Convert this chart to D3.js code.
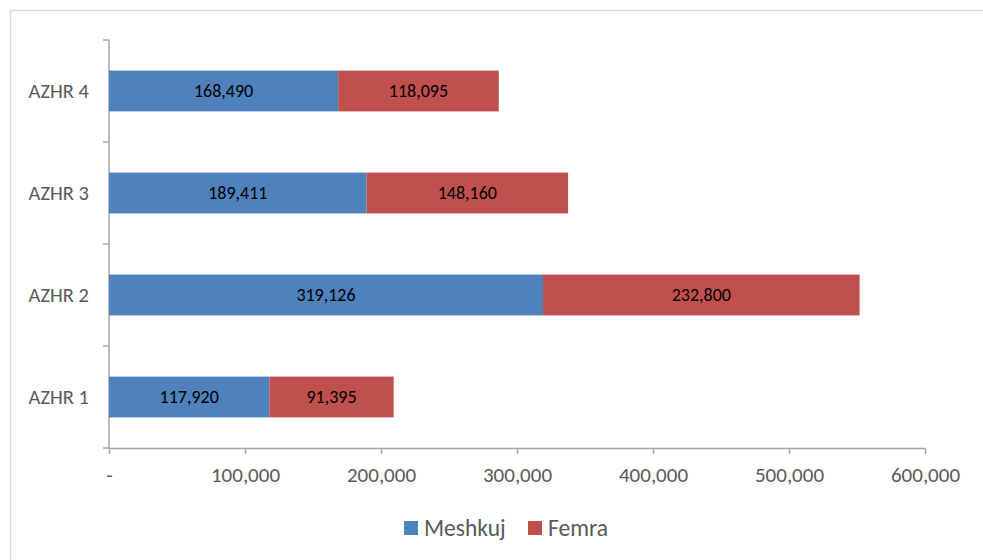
<!DOCTYPE html>
<html>
<head>
<meta charset="utf-8">
<script src="https://cdn.jsdelivr.net/npm/d3@7"></script>
<style>
  body { margin: 0; background: #fff; }
  text { font-family: Calibri, Carlito, "Open Sans", sans-serif; }
</style>
</head>
<body>
<svg id="chart" width="983" height="560"></svg>
<script>
// data
var categories = ["AZHR 1", "AZHR 2", "AZHR 3", "AZHR 4"];
var meshkuj = [117920, 319126, 189411, 168490];
var femra = [91395, 232800, 148160, 118095];
var seriesNames = ["Meshkuj", "Femra"];
var seriesColors = ["#4F81BD", "#C0504D"];
var xTicks = [0, 100000, 200000, 300000, 400000, 500000, 600000];

var svg = d3.select("#chart");

// outer frame
svg.append("rect")
    .attr("x", 10.5).attr("y", 10.5)
    .attr("width", 1000).attr("height", 600)
    .attr("fill", "none")
    .attr("stroke", "#D9D9D9")
    .attr("stroke-width", 1.5);

var pLeft = 109, pRight = 925, pTop = 40, pBottom = 448;

var x = d3.scaleLinear().domain([0, 600000]).range([pLeft, pRight]);
var y = d3.scaleBand()
    .domain(categories.slice().reverse())
    .range([pTop, pBottom])
    .paddingInner(0.6)
    .paddingOuter(0.3);

var rows = categories.map(function(c, i) {
    return {cat: c, vals: [meshkuj[i], femra[i]]};
});

// x axis
var xAxis = svg.append("g")
    .attr("transform", "translate(0," + pBottom + ")")
    .call(d3.axisBottom(x).tickValues(xTicks).tickSize(6).tickSizeOuter(0)
        .tickFormat(function(d){ return d === 0 ? "-" : d3.format(",")(d); }));
xAxis.select(".domain").attr("stroke", "#A6A6A6").attr("stroke-width", 1.5);
xAxis.selectAll(".tick line").attr("stroke", "#A6A6A6").attr("stroke-width", 1.5);
xAxis.selectAll(".tick text")
    .attr("y", 27).attr("dy", "0.35em")
    .attr("fill", "#595959")
    .style("font-family", null)
    .style("font-size", "21px");
xAxis.attr("font-family", null);

// y axis, ticks between categories
var yAxis = svg.append("g").attr("transform", "translate(" + pLeft + ",0)");
yAxis.append("line")
    .attr("x1", 0).attr("x2", 0).attr("y1", pTop).attr("y2", pBottom)
    .attr("stroke", "#A6A6A6").attr("stroke-width", 1.5);
var bounds = d3.range(categories.length + 1).map(function(i){ return pTop + i * (pBottom - pTop) / categories.length; });
yAxis.selectAll("line.tk").data(bounds).enter().append("line")
    .attr("class", "tk")
    .attr("x1", -6).attr("x2", 0)
    .attr("y1", function(d){ return d; }).attr("y2", function(d){ return d; })
    .attr("stroke", "#A6A6A6").attr("stroke-width", 1.5);

svg.append("g").selectAll("text").data(categories).enter().append("text")
    .attr("x", 89)
    .attr("y", function(d){ return y(d) + y.bandwidth() / 2; })
    .attr("dy", "0.35em")
    .attr("text-anchor", "end")
    .attr("fill", "#595959")
    .style("font-size", "20.5px")
    .text(function(d){ return d; });

// stacked bars
var segs = [];
rows.forEach(function(r) {
    var acc = 0;
    r.vals.forEach(function(v, j) {
        segs.push({cat: r.cat, s: j, x0: acc, x1: acc + v, v: v});
        acc += v;
    });
});

svg.append("g").selectAll("rect").data(segs).enter().append("rect")
    .attr("x", function(d){ return x(d.x0); })
    .attr("y", function(d){ return y(d.cat); })
    .attr("width", function(d){ return x(d.x1) - x(d.x0); })
    .attr("height", y.bandwidth())
    .attr("fill", function(d){ return seriesColors[d.s]; });

svg.append("g").selectAll("text").data(segs).enter().append("text")
    .attr("x", function(d){ return (x(d.x0) + x(d.x1)) / 2; })
    .attr("y", function(d){ return y(d.cat) + y.bandwidth() / 2; })
    .attr("dy", "0.35em")
    .attr("text-anchor", "middle")
    .attr("fill", "#000")
    .style("font-size", "18px")
    .text(function(d){ return d3.format(",")(d.v); });

// legend
var legend = svg.append("g");
var legX = [404, 528];
seriesNames.forEach(function(n, i) {
    legend.append("rect")
        .attr("x", legX[i]).attr("y", 521)
        .attr("width", 14).attr("height", 14)
        .attr("fill", seriesColors[i]);
    legend.append("text")
        .attr("x", legX[i] + 20).attr("y", 528)
        .attr("dy", "0.35em")
        .attr("fill", "#595959")
        .style("font-size", "23.5px")
        .text(n);
});
</script>
</body>
</html>
